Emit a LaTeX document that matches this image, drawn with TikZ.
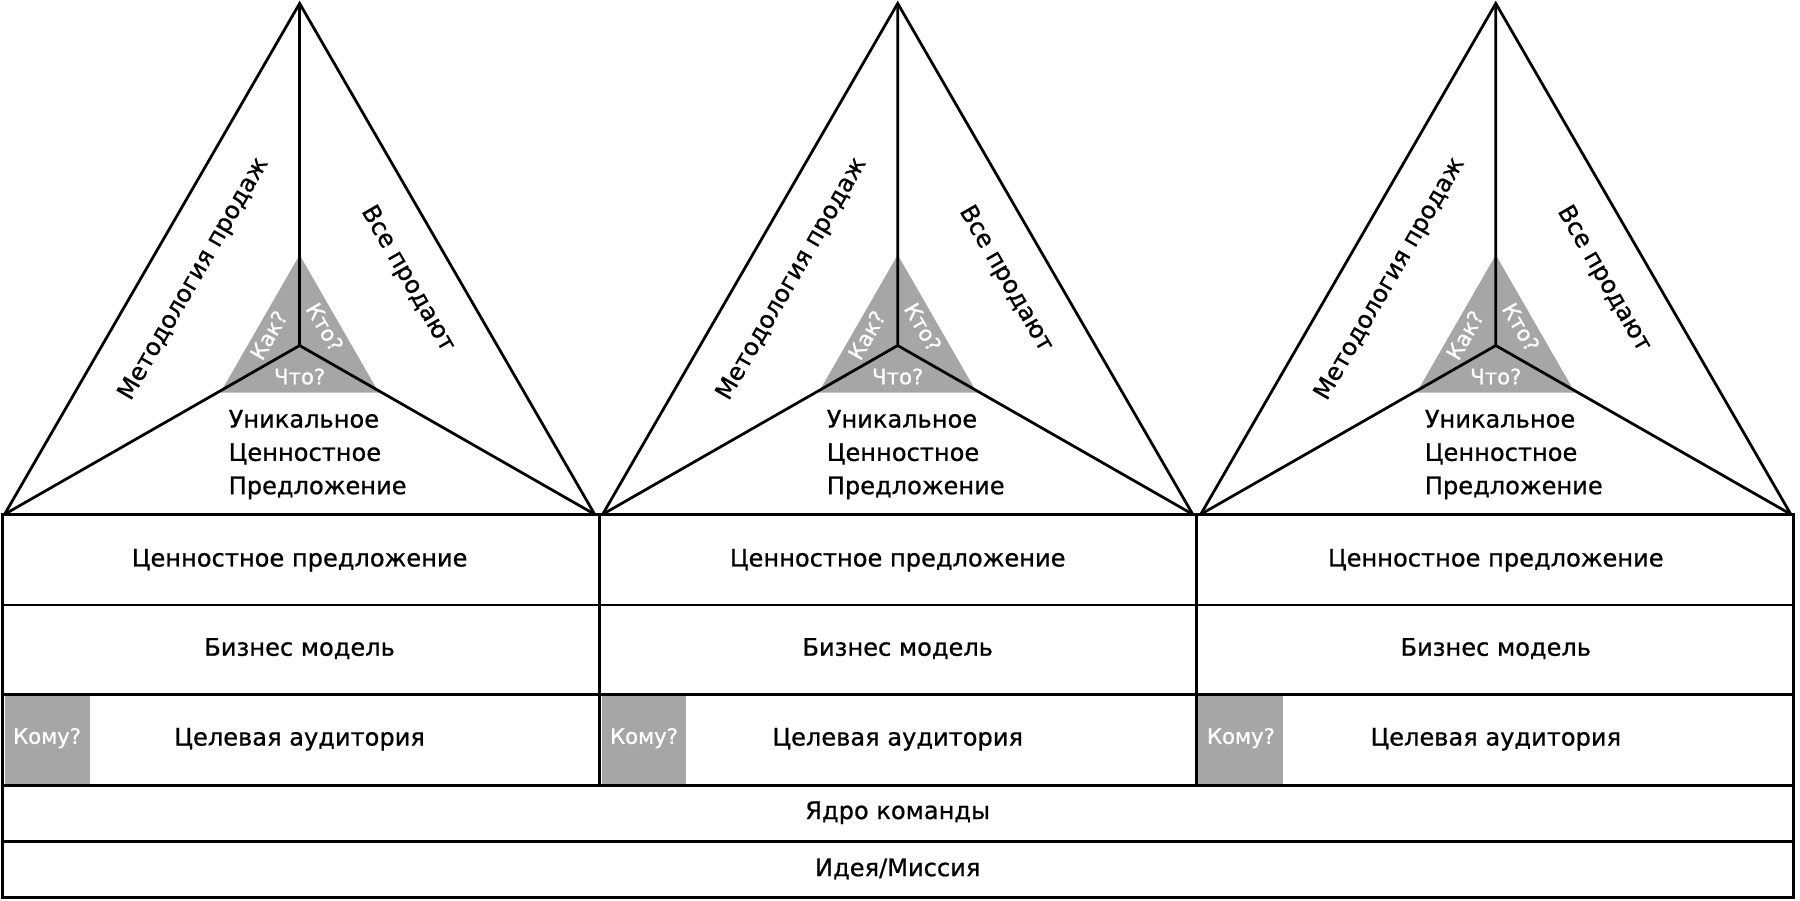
\documentclass[tikz,border=0pt]{standalone}
\usepackage{fontspec}
\setmainfont{DejaVu Sans}[FakeBold=0.8]
\definecolor{qgray}{HTML}{A6A6A6}
\tikzset{
	frame/.style={draw=black, line width=2.4pt},
	lbl/.style={font=\fontsize{21}{29}\selectfont},
	qlbl/.style={text=white, font=\fontsize{18.5}{21}\selectfont},
}
\begin{document}
\begin{tikzpicture}[x=1pt,y=1pt]
	\useasboundingbox (0,0) rectangle (1568,784);
	\foreach \i/\cx/\lx in {1/261/2,2/782/522,3/1303/1042} {
		% pyramid
		\coordinate (top\i) at (\cx,781);
		\coordinate (mid\i) at (\cx,483);
		\coordinate (bl\i) at (\cx-257,336);
		\coordinate (br\i) at (\cx+257,336);
		\fill[qgray] (\cx,562) -- (\cx-69,442) -- (\cx+69,442) -- cycle;
		\draw[frame, line join=miter] (bl\i) -- (top\i) -- (br\i);
		\draw[frame] (mid\i) -- (top\i) (mid\i) -- (bl\i) (mid\i) -- (br\i);
		\node[lbl, rotate=60] (meth\i) at (\cx-92,541) {Методология продаж};
		\node[lbl, rotate=-60] (sell\i) at (\cx+94,541) {Все продают};
		\node[qlbl, rotate=60] (how\i) at (\cx-27,492) {Как?};
		\node[qlbl, rotate=-60] (who\i) at (\cx+22,499) {Кто?};
		\node[qlbl] (what\i) at (\cx,456) {Что?};
		\node[lbl, anchor=west, align=left, inner sep=0pt] (usp\i) at (\cx-62,388) {Уникальное\\Ценностное\\Предложение};
		% blocks
		\fill[qgray] (\lx+2,179) rectangle (\lx+76,100);
		\node[qlbl] (whom\i) at (\lx+39,141) {Кому?};
		\draw[frame] (\lx,336) rectangle (\lx+520,100);
		\draw[frame] (\lx,257) -- (\lx+520,257) (\lx,179) -- (\lx+520,179);
		\node[lbl] (vp\i) at (\cx,296) {Ценностное предложение};
		\node[lbl] (bm\i) at (\cx,219) {Бизнес модель};
		\node[lbl] (ta\i) at (\cx,140) {Целевая аудитория};
	}
	\draw[frame] (2,100) rectangle (1562,2);
	\draw[frame] (2,51) -- (1562,51);
	\node[lbl] (core) at (782,76) {Ядро команды};
	\node[lbl] (idea) at (782,27) {Идея/Миссия};
\end{tikzpicture}
\end{document}
